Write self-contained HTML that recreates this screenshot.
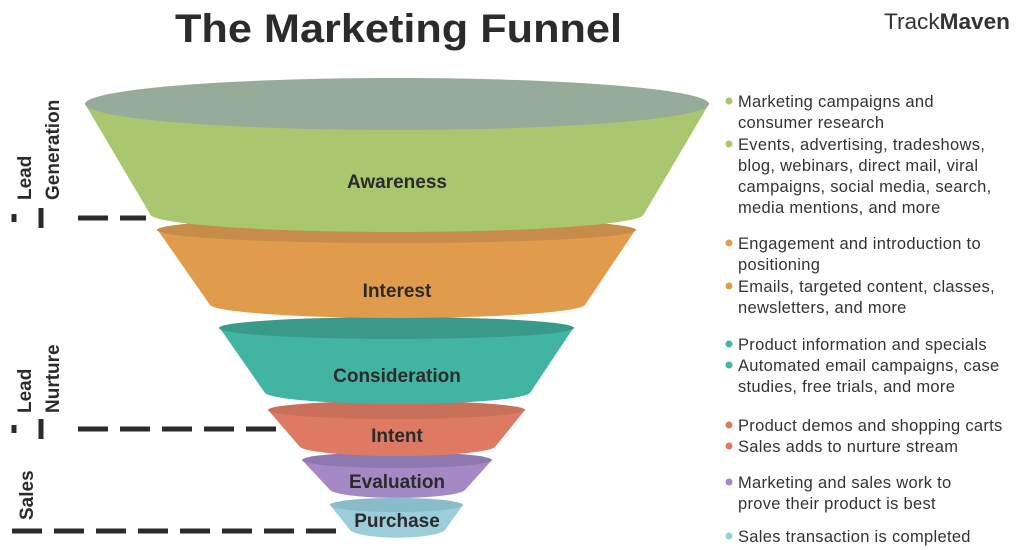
<!DOCTYPE html>
<html><head><meta charset="utf-8"><style>
html,body{margin:0;padding:0;background:#fff;}
svg{display:block;font-family:"Liberation Sans",sans-serif;}
</style></head><body>
<svg width="1024" height="550" viewBox="0 0 1024 550" xmlns="http://www.w3.org/2000/svg">
<text x="175" y="42" font-size="40" font-weight="bold" fill="#2b2b2b" textLength="447" lengthAdjust="spacingAndGlyphs">The Marketing Funnel</text>
<text x="884" y="29" font-size="22" fill="#333" textLength="126" lengthAdjust="spacingAndGlyphs">Track<tspan font-weight="bold">Maven</tspan></text>

<path d="M330,505 L350,530 A48,9 0 0 0 445,530 L463,505 Z" fill="#9ccddb"/>
<ellipse cx="396.5" cy="505" rx="66.5" ry="7" fill="#88bcc9"/>
<path d="M302,460 L330,490 A68,9 0 0 0 465,490 L492,460 Z" fill="#a589c4"/>
<ellipse cx="397" cy="460" rx="95" ry="8" fill="#8e78b0"/>
<path d="M268,410 L300,447 A98,10 0 0 0 495,447 L525,410 Z" fill="#de7a63"/>
<ellipse cx="396.5" cy="410" rx="128.5" ry="9" fill="#c96f5a"/>
<path d="M219,327 L265,393 A133,12 0 0 0 530,393 L574,327 Z" fill="#41b4a2"/>
<ellipse cx="396.5" cy="328" rx="177.5" ry="11" fill="#3a9a8a"/>
<path d="M157,229 L210,305 A188,14 0 0 0 585,305 L636,229 Z" fill="#e19b4c"/>
<ellipse cx="396.5" cy="230" rx="239.5" ry="13" fill="#c78c4a"/>
<path d="M85,104 L150,214 A247,18 0 0 0 644,214 L709,104 Z" fill="#a9c76f"/>
<ellipse cx="397" cy="104" rx="312" ry="26" fill="#97ab9a"/>

<g font-size="19" font-weight="bold" fill="#2b2b2b" text-anchor="middle">
<text x="397" y="188">Awareness</text>
<text x="397" y="297">Interest</text>
<text x="397" y="382">Consideration</text>
<text x="397" y="442">Intent</text>
<text x="397" y="488">Evaluation</text>
<text x="397" y="527">Purchase</text>
</g>

<g stroke="#2b2b2b" stroke-width="5" fill="none">
<line x1="78" y1="218" x2="146" y2="218" stroke-dasharray="30,12"/>
<line x1="78" y1="429" x2="276" y2="429" stroke-dasharray="30,12"/>
<line x1="12" y1="531" x2="342" y2="531" stroke-dasharray="30,12"/>
<line x1="14" y1="214" x2="14" y2="222"/>
<line x1="41" y1="208" x2="41" y2="228"/>
<line x1="14" y1="425" x2="14" y2="433"/>
<line x1="41" y1="419" x2="41" y2="439"/>
</g>
<g font-size="19" font-weight="bold" fill="#2b2b2b">
<text transform="translate(31,200) rotate(-90)">Lead</text>
<text transform="translate(59,200) rotate(-90)">Generation</text>
<text transform="translate(31,413) rotate(-90)">Lead</text>
<text transform="translate(59,413) rotate(-90)">Nurture</text>
<text transform="translate(33,520) rotate(-90)">Sales</text>
</g>

<g font-size="16.5" fill="#333" letter-spacing="0.3">
<circle cx="729" cy="101" r="3.5" fill="#a9c76f"/>
<text x="738" y="107">Marketing campaigns and</text>
<text x="738" y="128">consumer research</text>
<circle cx="729" cy="144" r="3.5" fill="#a9c76f"/>
<text x="738" y="150">Events, advertising, tradeshows,</text>
<text x="738" y="171">blog, webinars, direct mail, viral</text>
<text x="738" y="192">campaigns, social media, search,</text>
<text x="738" y="213">media mentions, and more</text>
<circle cx="729" cy="243" r="3.5" fill="#e19b4c"/>
<text x="738" y="249">Engagement and introduction to</text>
<text x="738" y="270">positioning</text>
<circle cx="729" cy="286" r="3.5" fill="#e19b4c"/>
<text x="738" y="292">Emails, targeted content, classes,</text>
<text x="738" y="313">newsletters, and more</text>
<circle cx="729" cy="344" r="3.5" fill="#41b4a2"/>
<text x="738" y="350">Product information and specials</text>
<circle cx="729" cy="365" r="3.5" fill="#41b4a2"/>
<text x="738" y="371">Automated email campaigns, case</text>
<text x="738" y="392">studies, free trials, and more</text>
<circle cx="729" cy="425" r="3.5" fill="#de7a63"/>
<text x="738" y="431">Product demos and shopping carts</text>
<circle cx="729" cy="446" r="3.5" fill="#de7a63"/>
<text x="738" y="452">Sales adds to nurture stream</text>
<circle cx="729" cy="482" r="3.5" fill="#a589c4"/>
<text x="738" y="488">Marketing and sales work to</text>
<text x="738" y="509">prove their product is best</text>
<circle cx="729" cy="536" r="3.5" fill="#9ccddb"/>
<text x="738" y="542">Sales transaction is completed</text>
</g>
</svg>
</body></html>
